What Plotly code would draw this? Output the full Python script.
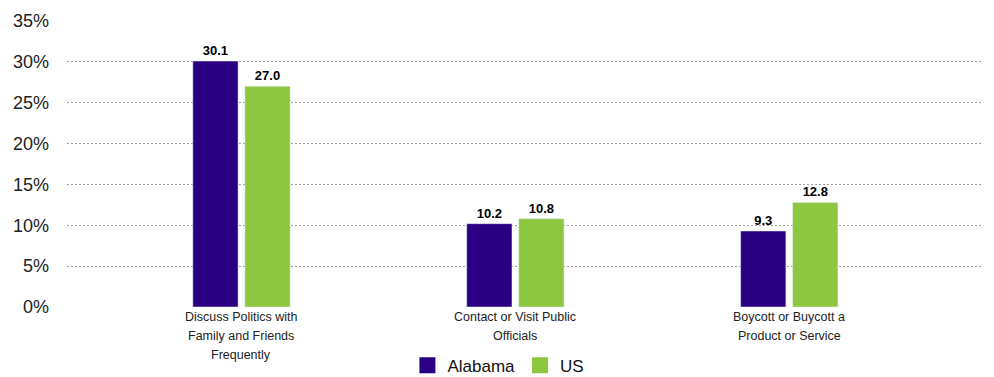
import plotly.graph_objects as go

# Civic engagement measures, percent of residents
categories = [
    "Discuss Politics with<br>Family and Friends<br>Frequently",
    "Contact or Visit Public<br>Officials",
    "Boycott or Buycott a<br>Product or Service",
]
alabama = [30.1, 10.2, 9.3]
us = [27.0, 10.8, 12.8]
y_ticks = [0, 5, 10, 15, 20, 25, 30, 35]
y_tick_labels = [f"{v}%" for v in y_ticks]

FONT = "Liberation Sans, Arial, sans-serif"
PURPLE = "#2A0082"
GREEN = "#8DC63F"

x_pos = list(range(len(categories)))

fig = go.Figure()
for name, vals, color in [("Alabama", alabama, PURPLE), ("US", us, GREEN)]:
    fig.add_trace(go.Bar(
        name=name, x=x_pos, y=vals, marker_color=color,
        text=[f"{v:.1f}" for v in vals], textposition="outside",
        textfont=dict(family=FONT, size=13, color="#000000", weight="bold"),
        cliponaxis=False, showlegend=False,
    ))
# legend entries with larger square swatches
for name, color in [("Alabama", PURPLE), ("US", GREEN)]:
    fig.add_trace(go.Scatter(
        name=name, x=[None], y=[None], mode="markers",
        marker=dict(symbol="square", size=16, color=color),
        showlegend=True,
    ))

# category labels, one line per annotation for looser line spacing
LINE_STEP = 19 / 286
for xi, label in zip(x_pos, categories):
    for k, line in enumerate(label.split("<br>")):
        fig.add_annotation(
            x=xi, xref="x", y=-(10 / 286) - k * LINE_STEP, yref="paper",
            text=line, showarrow=False, yanchor="middle", xanchor="center",
            font=dict(family=FONT, size=12.5, color="#222222"),
        )

fig.update_layout(
    width=994, height=377,
    margin=dict(l=67, r=13, t=21, b=70, autoexpand=False),
    paper_bgcolor="white", plot_bgcolor="white",
    barmode="group", bargap=0.62, bargroupgap=0.13,
    font=dict(family=FONT, color="#222222"),
    showlegend=True,
    legend=dict(
        orientation="h", x=0.472, xanchor="center", y=-0.205, yanchor="middle",
        font=dict(family=FONT, size=17, color="#111111"),
        itemwidth=30, traceorder="normal",
    ),
)
fig.update_xaxes(
    tickmode="array", tickvals=x_pos, ticktext=[""] * len(x_pos),
    range=[-0.637, 2.7], showgrid=False, zeroline=False, showline=False,
    ticks="", automargin=False,
)
fig.update_yaxes(
    range=[0, 35], tickvals=y_ticks, ticktext=y_tick_labels,
    showgrid=True, gridcolor="#a0a0a0", gridwidth=1, griddash="2px,2px",
    zeroline=False, showline=False, ticks="",
    tickfont=dict(family=FONT, size=18, color="#222222"),
    ticklabelstandoff=17, automargin=False,
)

fig.write_html("out.html")
